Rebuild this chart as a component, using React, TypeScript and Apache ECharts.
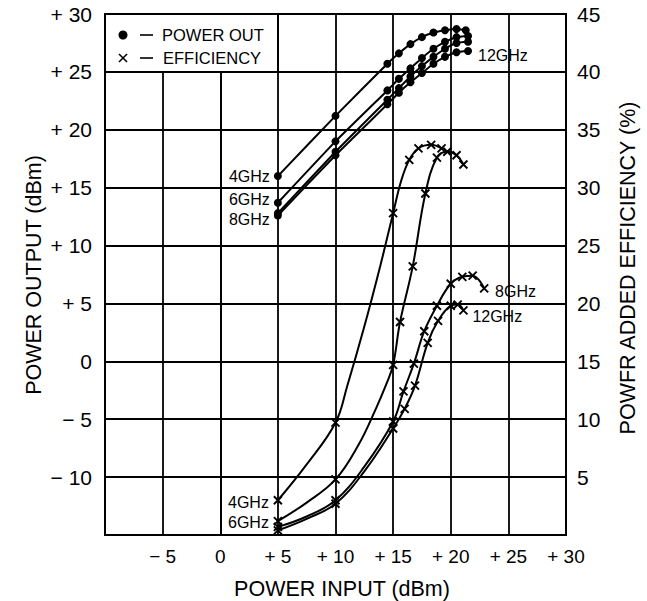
import React, { useEffect, useRef } from "react";
import * as echarts from "echarts";

// ---- tick values and labels ----
const xTicks = [-10, -5, 0, 5, 10, 15, 20, 25, 30];
const xTickLabels = ["", "− 5", "0", "+ 5", "+ 10", "+ 15", "+ 20", "+ 25", "+ 30"];
const powerTicks = [-15, -10, -5, 0, 5, 10, 15, 20, 25, 30];
const powerTickLabels = ["", "− 10", "− 5", "0", "+ 5", "+ 10", "+ 15", "+ 20", "+ 25", "+ 30"];
const effTicks = [0, 5, 10, 15, 20, 25, 30, 35, 40, 45];
const effTickLabels = ["", "5", "10", "15", "20", "25", "30", "35", "40", "45"];

// ---- power out (dBm) vs power input (dBm) ----
const powerOut4GHz = [
  [5, 16.0], [10, 21.2], [14.5, 25.7], [15.5, 26.6], [16.5, 27.4], [17.5, 28.0],
  [18.5, 28.4], [19.5, 28.6], [20.5, 28.7], [21.3, 28.6],
];
const powerOut6GHz = [
  [5, 13.7], [10, 19.0], [14.5, 23.4], [15.5, 24.4], [16.5, 25.3], [17.5, 26.2],
  [18.5, 27.0], [19.5, 27.6], [20.5, 28.0], [21.5, 28.1],
];
const powerOut8GHz = [
  [5, 12.8], [10, 18.1], [14.5, 22.6], [15.5, 23.6], [16.5, 24.6], [17.5, 25.5],
  [18.5, 26.3], [19.5, 27.0], [20.5, 27.5], [21.5, 27.6],
];
const powerOut12GHz = [
  [5, 12.6], [10, 17.8], [14.5, 22.2], [15.5, 23.2], [16.5, 24.1], [17.5, 24.9],
  [18.5, 25.7], [19.5, 26.3], [20.5, 26.7], [21.5, 26.8],
];

// ---- power added efficiency (%) vs power input (dBm); 3rd value 1 = measured point ----
const eff4GHz = [
  [5, 3.0, 1], [7.5, 6.1, 0], [10, 9.7, 1], [11, 12.8, 0], [12.5, 18.0, 0], [13.9, 23.3, 0],
  [15, 27.8, 1], [15.7, 30.6, 0], [16.4, 32.4, 1], [17.2, 33.4, 1], [18.3, 33.7, 1], [19.2, 33.4, 1],
];
const eff6GHz = [
  [5, 1.2, 1], [7.5, 2.8, 0], [10, 4.8, 1], [12, 7.8, 0], [13.5, 10.9, 0], [14.4, 13.0, 0], [15, 14.7, 1],
  [15.6, 18.4, 1], [16.7, 23.2, 1], [17.8, 29.5, 1], [18.8, 32.6, 1], [19.7, 33.1, 1],
  [20.5, 32.8, 1], [21.1, 32.0, 1],
];
const eff8GHz = [
  [5, 0.7, 1], [7.5, 1.6, 0], [10, 3.0, 1], [12.5, 5.9, 0], [15, 9.8, 1], [15.9, 12.4, 1],
  [16.8, 14.8, 1], [17.7, 17.6, 1], [18.8, 19.8, 1], [20, 21.7, 1], [21, 22.3, 1],
  [21.9, 22.4, 1], [22.9, 21.3, 1],
];
const eff12GHz = [
  [5, 0.4, 1], [7.5, 1.4, 0], [10, 2.7, 1], [12.5, 5.5, 0], [15, 9.2, 1], [16, 10.9, 1],
  [16.9, 12.9, 1], [18, 16.6, 1], [18.9, 18.5, 1], [20, 19.8, 1], [20.6, 19.9, 1], [21.1, 19.4, 1],
];

const FONT = "'Liberation Sans', Arial, Helvetica, sans-serif";
const CROSS = "path://M0,0L10,10M10,0L0,10";

function tickFormatter(ticks: number[], labels: string[]) {
  return (v: number) => {
    const i = ticks.indexOf(Math.round(v));
    return i >= 0 ? labels[i] : "";
  };
}

function labelCfg(text: string, position: string, offset: number[] = [0, 0]) {
  return {
    show: true,
    position,
    distance: 4,
    offset,
    formatter: text,
    color: "#000",
    fontSize: 16,
    fontFamily: FONT,
  };
}

type Lbl = { index: number; text: string; position: string; offset?: number[] };

function powerSeries(name: string, pts: number[][], labels: Lbl[]) {
  return {
    type: "line",
    name,
    xAxisIndex: 0,
    yAxisIndex: 0,
    smooth: 0.15,
    symbol: "circle",
    symbolSize: 8,
    showSymbol: true,
    silent: true,
    z: 3,
    lineStyle: { color: "#000", width: 2 },
    itemStyle: { color: "#000" },
    data: pts.map((p, i) => {
      const l = labels.find((q) => q.index === i);
      return l ? { value: p, label: labelCfg(l.text, l.position, l.offset) } : { value: p };
    }),
  };
}

function effSeries(name: string, pts: number[][], labels: Lbl[]) {
  return {
    type: "line",
    name,
    xAxisIndex: 0,
    yAxisIndex: 1,
    smooth: 0.4,
    symbol: CROSS,
    symbolSize: 8,
    showSymbol: true,
    silent: true,
    z: 3,
    lineStyle: { color: "#000", width: 2 },
    itemStyle: { color: "transparent", borderColor: "#000", borderWidth: 1.9 },
    data: pts.map((p, i) => {
      const item: any = { value: [p[0], p[1]] };
      if (!p[2]) item.symbol = "none";
      const l = labels.find((q) => q.index === i);
      if (l) item.label = labelCfg(l.text, l.position, l.offset);
      return item;
    }),
  };
}

export default function App() {
  const ref = useRef<HTMLDivElement>(null);

  useEffect(() => {
    if (!ref.current) return;
    const chart = echarts.init(ref.current, null, { renderer: "svg" });
    const axisLineStyle = { color: "#000", width: 2 };
    const tickLabelStyle = { color: "#000", fontFamily: FONT };

    chart.setOption({
      animation: false,
      backgroundColor: "#fff",
      grid: {
        left: 105,
        right: 81,
        top: 14,
        bottom: 66,
        show: true,
        borderColor: "#000",
        borderWidth: 2,
        backgroundColor: "transparent",
      },
      xAxis: {
        type: "value",
        min: -10,
        max: 30,
        interval: 5,
        axisLine: { show: true, lineStyle: axisLineStyle },
        axisTick: { show: false },
        splitLine: { show: true, lineStyle: { color: "#000", width: 1.8 } },
        axisLabel: { ...tickLabelStyle, fontSize: 19, margin: 12, formatter: tickFormatter(xTicks, xTickLabels) },
      },
      yAxis: [
        {
          type: "value",
          position: "left",
          min: -15,
          max: 30,
          interval: 5,
          axisLine: { show: true, lineStyle: axisLineStyle },
          axisTick: { show: false },
          splitLine: { show: true, lineStyle: { color: "#000", width: 1.8 } },
          axisLabel: { ...tickLabelStyle, fontSize: 21, margin: 13, formatter: tickFormatter(powerTicks, powerTickLabels) },
        },
        {
          type: "value",
          position: "right",
          min: 0,
          max: 45,
          interval: 5,
          axisLine: { show: true, lineStyle: axisLineStyle },
          axisTick: { show: false },
          splitLine: { show: false },
          axisLabel: { ...tickLabelStyle, fontSize: 21, margin: 11, formatter: tickFormatter(effTicks, effTickLabels) },
        },
      ],
      series: [
        powerSeries("Power out 4GHz", powerOut4GHz, [{ index: 0, text: "4GHz", position: "left" }]),
        powerSeries("Power out 6GHz", powerOut6GHz, [{ index: 0, text: "6GHz", position: "left", offset: [0, -3] }]),
        powerSeries("Power out 8GHz", powerOut8GHz, [{ index: 0, text: "8GHz", position: "left", offset: [0, 6] }]),
        powerSeries("Power out 12GHz", powerOut12GHz, [
          { index: powerOut12GHz.length - 1, text: "12GHz", position: "right", offset: [2, 4] },
        ]),
        effSeries("Efficiency 4GHz", eff4GHz, [{ index: 0, text: "4GHz", position: "left", offset: [0, 2] }]),
        effSeries("Efficiency 6GHz", eff6GHz, [{ index: 0, text: "6GHz", position: "left", offset: [0, 1] }]),
        effSeries("Efficiency 8GHz", eff8GHz, [
          { index: eff8GHz.length - 1, text: "8GHz", position: "right", offset: [2, 3] },
        ]),
        effSeries("Efficiency 12GHz", eff12GHz, [
          { index: eff12GHz.length - 1, text: "12GHz", position: "right", offset: [0, 6] },
        ]),
      ],
      graphic: [
        {
          type: "rect",
          z: 100,
          shape: { x: 105, y: 14, width: 173, height: 58 },
          style: { fill: "#fff", stroke: "#000", lineWidth: 2 },
        },
        { type: "circle", z: 101, shape: { cx: 123, cy: 35, r: 4.5 }, style: { fill: "#000" } },
        { type: "line", z: 101, shape: { x1: 140, y1: 35, x2: 153, y2: 35 }, style: { stroke: "#000", lineWidth: 1.6 } },
        {
          type: "text",
          z: 101,
          x: 162,
          y: 35,
          style: { text: "POWER OUT", fontSize: 16.5, fontFamily: FONT, fill: "#000", verticalAlign: "middle" },
        },
        { type: "line", z: 101, shape: { x1: 119, y1: 54, x2: 127, y2: 62 }, style: { stroke: "#000", lineWidth: 1.6 } },
        { type: "line", z: 101, shape: { x1: 127, y1: 54, x2: 119, y2: 62 }, style: { stroke: "#000", lineWidth: 1.6 } },
        { type: "line", z: 101, shape: { x1: 140, y1: 58, x2: 153, y2: 58 }, style: { stroke: "#000", lineWidth: 1.6 } },
        {
          type: "text",
          z: 101,
          x: 163,
          y: 58,
          style: { text: "EFFICIENCY", fontSize: 16.5, fontFamily: FONT, fill: "#000", verticalAlign: "middle" },
        },
        {
          type: "text",
          x: 34,
          y: 275,
          rotation: Math.PI / 2,
          style: {
            text: "POWER OUTPUT (dBm)",
            fontSize: 21.5,
            fontFamily: FONT,
            fill: "#000",
            align: "center",
            verticalAlign: "middle",
          },
        },
        {
          type: "text",
          x: 342,
          y: 589,
          style: {
            text: "POWER INPUT (dBm)",
            fontSize: 21.5,
            fontFamily: FONT,
            fill: "#000",
            align: "center",
            verticalAlign: "middle",
          },
        },
        {
          type: "text",
          x: 628,
          y: 268,
          rotation: Math.PI / 2,
          style: {
            text: "POWFR ADDED EFFICIENCY (%)",
            fontSize: 21.5,
            fontFamily: FONT,
            fill: "#000",
            align: "center",
            verticalAlign: "middle",
          },
        },
      ],
    });

    return () => chart.dispose();
  }, []);

  return (
    <div
      ref={ref}
      style={{ position: "fixed", left: 0, top: 0, width: 647, height: 601, background: "#fff" }}
    />
  );
}
